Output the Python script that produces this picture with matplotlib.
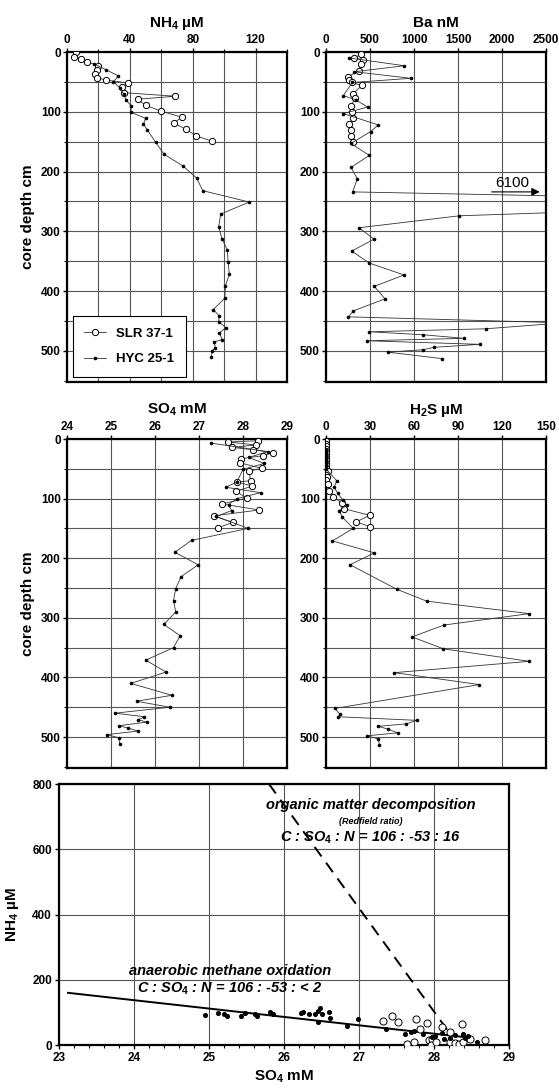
import matplotlib
matplotlib.use("Agg")
import matplotlib.pyplot as plt
from matplotlib.ticker import MultipleLocator

plt.rcParams['font.family'] = ['Liberation Sans', 'DejaVu Sans']
plt.rcParams['font.weight'] = 'bold'
plt.rcParams['mathtext.fontset'] = 'custom'
plt.rcParams['mathtext.bf'] = 'Liberation Sans:bold'
plt.rcParams['mathtext.it'] = 'Liberation Sans:bold:italic'
plt.rcParams['mathtext.rm'] = 'Liberation Sans:bold'

# --- NH4 profiles (uM) ---
nh4_slr_depth = [0, 8, 11, 16, 23, 30, 37, 43, 47, 52, 58, 68, 74, 79, 89, 99, 109, 119, 129, 140, 149]
nh4_slr = [5.7, 4.5, 9, 12.5, 20, 19, 18, 19, 25, 39, 35, 36, 69, 45, 50, 60, 73, 68, 75.5, 82, 92]
nh4_hyc_depth = [20, 30, 40, 50, 61, 71, 80, 90, 101, 111, 121, 130, 151, 171, 191, 211, 232, 251, 271, 292,
                 312, 331, 352, 372, 391, 412, 431, 441, 451, 461, 470, 481, 485, 495, 500, 510]
nh4_hyc = [17.4, 25, 32.7, 29.5, 34, 36, 37.5, 40.7, 40.7, 50, 48.6, 51, 56.4, 61.7, 74, 82.5, 86.4, 116, 97.8, 96.5,
           98.5, 102, 102.5, 103.3, 100.8, 100.4, 93, 96.8, 96.5, 101, 97, 98.7, 93.6, 94.4, 92.3, 91.9]

# --- Ba profiles (nM) ---
ba_slr_depth = [4, 10, 13, 20, 32, 41, 47, 51, 56, 71, 77, 91, 101, 111, 121, 130, 140, 151]
ba_slr = [398, 318, 417, 394, 379, 246, 265, 292, 405, 303, 330, 284, 292, 303, 265, 284, 284, 303]
ba_hyc_depth = [10, 23, 33, 44, 51, 73, 80, 92, 103, 122, 133, 153, 173, 193, 212, 234, 251, 274, 294, 313,
                333, 353, 373, 392, 413, 433, 443, 453, 463, 468, 473, 479, 483, 489, 494, 498, 502, 513]
ba_hyc = [263, 890, 320, 964, 299, 197, 337, 474, 197, 594, 508, 284, 492, 284, 356, 303, 6100, 1515, 375, 545,
          292, 492, 886, 549, 670, 311, 254, 2700, 1815, 492, 1106, 1572, 462, 1750, 1227, 1106, 701, 1322]

# --- SO4 profiles (mM) ---
so4_slr_depth = [3, 5, 10, 14, 18, 23, 28, 33, 40, 49, 54, 70, 72, 79, 88, 99, 109, 119, 129, 140, 149]
so4_slr = [28.33, 27.65, 28.30, 27.74, 28.23, 28.67, 28.46, 27.95, 27.93, 28.42, 28.14, 28.17, 27.87, 28.21,
           27.83, 28.10, 27.52, 28.37, 27.33, 27.77, 27.42]
so4_hyc_depth = [7, 21, 31, 41, 51, 72, 81, 90, 100, 110, 120, 130, 150, 170, 190, 211, 231, 251, 271, 290,
                 311, 330, 350, 371, 391, 410, 430, 440, 450, 460, 466, 471, 475, 481, 485, 490, 496, 501, 511]
so4_hyc = [27.28, 28.56, 28.13, 28.48, 28.0, 27.86, 27.61, 28.40, 27.86, 27.67, 27.74, 27.39, 28.12, 26.83,
           26.45, 26.98, 26.59, 26.47, 26.42, 26.47, 26.20, 26.57, 26.42, 25.79, 26.25, 25.45, 26.38, 25.58,
           26.34, 25.09, 25.76, 25.62, 25.81, 25.18, 25.39, 25.62, 24.90, 25.17, 25.20]

# --- H2S profiles (uM) ---
h2s_slr_depth = [0, 4, 8, 12, 16, 20, 24, 28, 32, 36, 40, 44, 48, 54, 60, 64, 69, 75, 88, 97, 107, 117, 128, 139, 147]
h2s_slr = [0, 0, 0, 0, 0, 0, 0, 0, 0, 0, 0, 0, 0, 1.4, 0.3, 0.5, 0.2, 1.5, 2.3, 4.8, 10.7, 12.3, 29.8, 20.7, 29.8]
h2s_hyc_depth = [18, 22, 26, 30, 34, 38, 42, 46, 50, 70, 81, 91, 102, 111, 120, 131, 150, 171, 191, 211,
                 252, 272, 293, 312, 332, 352, 373, 392, 412, 452, 462, 466, 472, 478, 482, 487, 493, 498, 503, 513]
h2s_hyc = [0, 0, 0, 0, 0, 0, 0, 0, 0, 7.3, 5.5, 8.0, 11.4, 14.1, 9.1, 11.1, 18.6, 4.3, 32.9, 16.4,
           48.2, 68.6, 138.6, 80.7, 58.6, 80, 138.6, 46.6, 104.5, 6.1, 9.5, 8.4, 61.8, 54.5, 35.7, 42.5,
           48.9, 27.7, 35.7, 36.4]

# --- NH4 vs SO4 scatter ---
sc_hyc_so4 = [24.95, 25.12, 25.20, 25.24, 25.43, 25.48, 25.61, 25.64, 25.82, 25.85, 26.23, 26.26, 26.34, 26.42,
              26.45, 26.48, 26.51, 26.46, 26.60, 26.61, 26.84, 26.99, 27.36, 27.61, 27.70, 27.74, 27.85, 27.97,
              28.02, 28.11, 28.13, 28.21, 28.28, 28.39, 28.41, 28.46, 28.57]
sc_hyc_nh4 = [92, 99, 95, 89, 89, 97, 94, 90, 101, 94, 97, 100, 95, 95, 105, 113, 95, 72, 100, 82, 59, 80, 48,
              34, 41, 44, 34, 26, 28, 38, 17, 20, 31, 34, 20, 28, 10]
sc_slr_so4 = [27.32, 27.44, 27.52, 27.76, 27.81, 27.91, 27.94, 27.98, 27.64, 27.74, 27.96, 28.11, 28.21, 28.21,
              28.28, 28.33, 28.38, 28.39, 28.48, 28.68, 28.03]
sc_slr_nh4 = [74, 89, 72, 80, 48, 66, 15, 17, 2, 9, 0, 56, 41, 10, 5, 3, 64, 10, 17, 15, 10]

amo_so4 = [23.12, 28.5]
amo_nh4 = [160, 22]
redfield_so4 = [25.8, 28.22]
redfield_nh4 = [800, 33]

depth_ticks = [0, 100, 200, 300, 400, 500]

fig = plt.figure(figsize=(5.59, 10.88), dpi=100)

line_kw = dict(color='#333333', lw=0.6)
open_kw = dict(marker='o', ms=4.5, mfc='white', mec='black', mew=0.7)
fill_kw = dict(marker='o', ms=2.6, mfc='black', mec='black', mew=0)


def profile_axes(rect, title, xlim, major, minor=None, ylabel=False):
    ax = fig.add_axes(rect)
    ax.set_xlim(*xlim)
    ax.set_ylim(552, 0)
    ax.xaxis.set_ticks_position('top')
    ax.xaxis.set_label_position('top')
    ax.xaxis.set_major_locator(MultipleLocator(major))
    if minor:
        ax.xaxis.set_minor_locator(MultipleLocator(minor))
    ax.set_yticks(depth_ticks)
    ax.yaxis.set_minor_locator(MultipleLocator(50))
    ax.grid(True, which='both', color='#555555', lw=0.8)
    ax.set_axisbelow(True)
    ax.tick_params(which='major', labelsize=8.5, length=3, width=1, pad=1.5)
    ax.tick_params(which='minor', length=2, width=0.8)
    for s in ax.spines.values():
        s.set_linewidth(1.6)
    ax.set_title(title, fontsize=11, fontweight='bold', pad=18)
    if ylabel:
        ax.set_ylabel('core depth cm', fontsize=11, fontweight='bold', labelpad=4)
    return ax


ax1 = profile_axes([0.1199, 0.6489, 0.3936, 0.3033], r'NH$_\mathbf{4}$ µM', (0, 140), 40, 20, ylabel=True)
ax1.plot(nh4_slr, nh4_slr_depth, **line_kw, **open_kw, label='SLR 37-1', zorder=3)
ax1.plot(nh4_hyc, nh4_hyc_depth, **line_kw, **fill_kw, label='HYC 25-1', zorder=4)
leg = ax1.legend(loc='lower left', bbox_to_anchor=(0.025, 0.015), fontsize=9.5, fancybox=False,
                 framealpha=1, edgecolor='black', handlelength=1.6, borderpad=0.9, labelspacing=1.0,
                 borderaxespad=0)
leg.get_frame().set_linewidth(0.8)

ax2 = profile_axes([0.5832, 0.6489, 0.3936, 0.3033], 'Ba nM', (0, 2500), 500)
ax2.plot(ba_slr, ba_slr_depth, **line_kw, **open_kw, zorder=3)
ax2.plot(ba_hyc, ba_hyc_depth, **line_kw, **fill_kw, zorder=4)
ax2.annotate('', xy=(2460, 234), xytext=(1850, 234),
             arrowprops=dict(arrowstyle='-|>', color='black', lw=0.8, mutation_scale=12))
ax2.text(2120, 230, '6100', fontsize=11, fontweight='normal', ha='center', va='bottom')

ax3 = profile_axes([0.1199, 0.2941, 0.3936, 0.3024], r'SO$_\mathbf{4}$ mM', (24, 29), 1, ylabel=True)
ax3.plot(so4_slr, so4_slr_depth, **line_kw, **open_kw, zorder=3)
ax3.plot(so4_hyc, so4_hyc_depth, **line_kw, **fill_kw, zorder=4)

ax4 = profile_axes([0.5832, 0.2941, 0.3936, 0.3024], r'H$_\mathbf{2}$S µM', (0, 150), 30)
ax4.plot(h2s_slr, h2s_slr_depth, **line_kw, **open_kw, zorder=3)
ax4.plot(h2s_hyc, h2s_hyc_depth, **line_kw, **fill_kw, zorder=4)

# --- bottom scatter ---
ax5 = fig.add_axes([0.1055, 0.0395, 0.805, 0.2399])
ax5.set_xlim(23, 29)
ax5.set_ylim(0, 800)
ax5.xaxis.set_major_locator(MultipleLocator(1))
ax5.xaxis.set_minor_locator(MultipleLocator(0.2))
ax5.yaxis.set_major_locator(MultipleLocator(200))
ax5.grid(True, which='major', color='#555555', lw=0.8)
ax5.set_axisbelow(True)
ax5.tick_params(which='major', labelsize=8.5, length=3, width=1, pad=2)
ax5.tick_params(which='minor', length=2, width=0.8)
for s in ax5.spines.values():
    s.set_linewidth(1.6)
ax5.plot(amo_so4, amo_nh4, color='black', lw=1.4, zorder=3)
ax5.plot(redfield_so4, redfield_nh4, color='black', lw=1.4, ls=(0, (6, 4)), zorder=3)
ax5.scatter(sc_slr_so4, sc_slr_nh4, s=26, facecolors='white', edgecolors='black', linewidths=0.7, zorder=4)
ax5.scatter(sc_hyc_so4, sc_hyc_nh4, s=7, color='black', zorder=5)
ax5.set_xlabel(r'SO$_\mathbf{4}$ mM', fontsize=11, fontweight='bold', labelpad=3)
ax5.set_ylabel(r'NH$_\mathbf{4}$ µM', fontsize=11, fontweight='bold', labelpad=8)

ax5.text(27.16, 737, 'organic matter decomposition', fontsize=10.5, style='italic', fontweight='bold',
         ha='center', va='center')
ax5.text(27.16, 684, '(Redfield ratio)', fontsize=6.5, style='italic', fontweight='bold',
         ha='center', va='center')
ax5.text(27.16, 635, r'C : SO$_\mathit{4}$ : N = 106 : -53 : 16', fontsize=10.5, style='italic',
         fontweight='bold', ha='center', va='center')
ax5.text(25.28, 228, 'anaerobic methane oxidation', fontsize=10.5, style='italic', fontweight='bold',
         ha='center', va='center')
ax5.text(25.28, 171, r'C : SO$_\mathit{4}$ : N = 106 : -53 : < 2', fontsize=10.5, style='italic',
         fontweight='bold', ha='center', va='center')

fig.savefig('out.png', dpi=100)
